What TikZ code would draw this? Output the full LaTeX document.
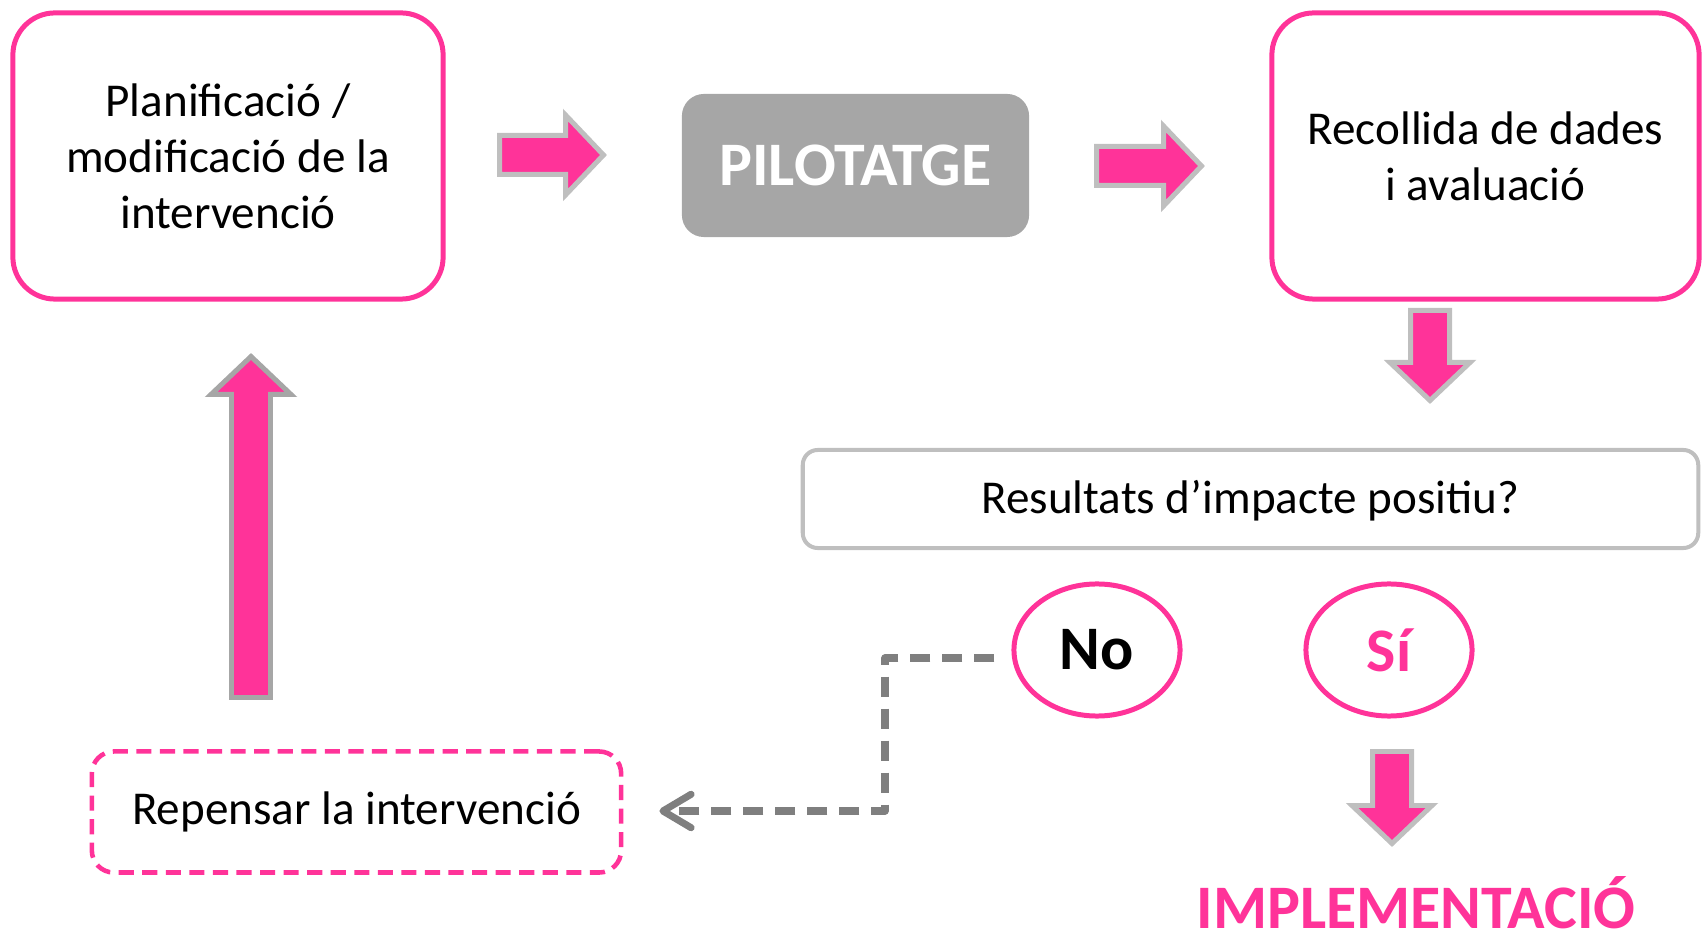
\documentclass[tikz,border=0pt]{standalone}
\usepackage{fontspec}
\setmainfont{Carlito}
\usetikzlibrary{shapes.geometric,arrows.meta,calc}

\definecolor{pinkline}{HTML}{FF3399}
\definecolor{arrowgray}{HTML}{BFBFBF}
\definecolor{darkgray2}{HTML}{A6A6A6}
\definecolor{boxgray}{HTML}{A6A6A6}
\definecolor{dashgray}{HTML}{7F7F7F}

\tikzset{
  txt/.style={font=\fontsize{13.4pt}{15.9pt}\selectfont, text=black},
  bigtxt/.style={font=\fontsize{17.6pt}{20pt}\selectfont\bfseries},
  stagebox/.style={txt, draw=pinkline, line width=1.42pt, rounded corners=0.42cm,
    align=center, inner sep=0pt},
  fat/.style={line width=1.42pt, line join=miter, fill=pinkline},
  oval/.style={ellipse, draw=pinkline, line width=1.42pt, inner sep=0pt,
    minimum width=1.66cm, minimum height=1.32cm, bigtxt},
  conn/.style={draw=dashgray, line width=2pt, dash pattern=on 5.7pt off 3.4pt,
    line join=round, -{Straight Barb[length=8pt,width=9.5pt,round]}}
}

\begin{document}
\begin{tikzpicture}[x=0.01cm,y=-0.01cm]
\useasboundingbox (0,0) rectangle (1702,946);

% caixes
\node[stagebox, minimum width=4.30cm, minimum height=2.86cm] (plan) at (228,156)
  {Planificació /\\ modificació de la\\ intervenció};
\node[fill=boxgray, rounded corners=0.22cm, minimum width=3.47cm, minimum height=1.43cm,
  text=white, bigtxt] (pilot) at (855.5,165.5) {PILOTATGE};
\node[stagebox, minimum width=4.27cm, minimum height=2.86cm] (recoll) at (1485.5,156)
  {Recollida de dades\\ i avaluació};
\node[txt, draw=arrowgray, line width=1.14pt, rounded corners=0.15cm,
  minimum width=8.95cm, minimum height=0.98cm, text height=2.2ex] (result) at (1250.5,499)
  {Resultats d’impacte positiu?};

\node[oval, text=black] (no) at (1097,650) {No};
\node[oval, text=pinkline] (si) at (1389,650) {Sí};

\node[txt, draw=pinkline, line width=1.3pt, dash pattern=on 4.3pt off 2.4pt,
  rounded corners=0.22cm, minimum width=5.29cm, minimum height=1.21cm] (rep) at (356.5,812)
  {Repensar la intervenció};

\node[bigtxt, text=pinkline, anchor=base, inner sep=0pt] (impl) at (1416,929)
  {IMPLEMENTACIÓ};

% fletxes grosses
\foreach \x/\y/\a/\l/\c in {499.5/155/0/104/arrowgray, 1096.5/166/0/105/arrowgray,
    1430/310.5/-90/90/arrowgray, 1392/751.5/-90/92/arrowgray, 251/697.5/90/341/darkgray2}
  \filldraw[fat, draw=\c, shift={(\x,\y)}, rotate=\a]
    (0,-19.5) -- (\l-38,-19.5) -- (\l-38,-40) -- (\l,0) -- (\l-38,40) -- (\l-38,19.5)
    -- (0,19.5) -- cycle;

% retorn
\coordinate (bend) at (885,658);
\draw[conn] ($(no.west)+(-17,8)$) -- (bend) |- ($(rep.east)+(36,-1)$);

\end{tikzpicture}
\end{document}
